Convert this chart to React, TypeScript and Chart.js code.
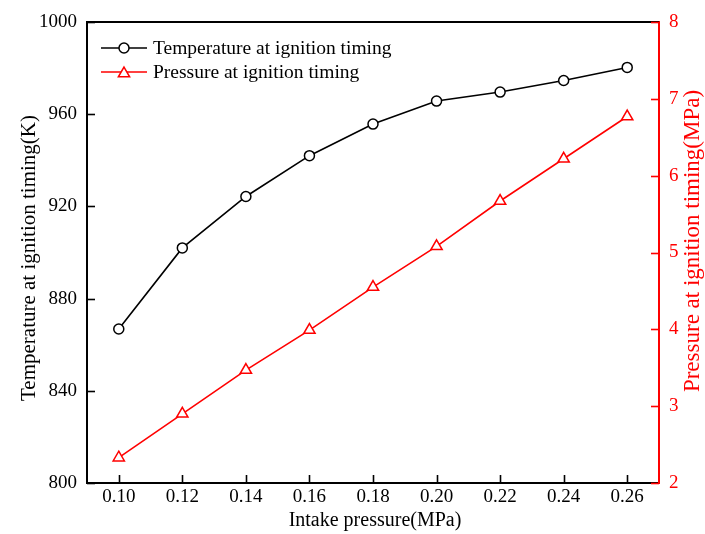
import React, { useEffect, useRef } from "react";
import { Chart, registerables } from "chart.js";

Chart.register(...registerables);

const xValues = [0.1, 0.12, 0.14, 0.16, 0.18, 0.2, 0.22, 0.24, 0.26];
const temperature = [866.8, 902, 924.3, 942, 955.7, 965.7, 969.6, 974.6, 980.3];
const pressure = [2.33, 2.9, 3.47, 3.99, 4.55, 5.08, 5.67, 6.22, 6.77];
const xTicks = [0.1, 0.12, 0.14, 0.16, 0.18, 0.2, 0.22, 0.24, 0.26];
const leftTicks = [800, 840, 880, 920, 960, 1000];
const rightTicks = [2, 3, 4, 5, 6, 7, 8];
const tempLabel = "Temperature at ignition timing";
const presLabel = "Pressure at ignition timing";
const xTitle = "Intake pressure(MPa)";
const leftTitle = "Temperature at ignition timing(K)";
const rightTitle = "Pressure at ignition timing(MPa)";

const FONT = "'Liberation Serif', 'Times New Roman', serif";
const RED = "#ff0000";

function drawMarker(ctx: any, style: string, color: string, x: number, y: number, r: number) {
  ctx.save();
  ctx.fillStyle = "#fff";
  ctx.strokeStyle = color;
  ctx.lineWidth = 1.5;
  ctx.beginPath();
  if (style === "circle") {
    ctx.arc(x, y, r, 0, Math.PI * 2);
  } else {
    for (let k = 0; k < 3; k++) {
      const ang = (k * 2 * Math.PI) / 3;
      const px = x + Math.sin(ang) * r;
      const py = y - Math.cos(ang) * r;
      if (k === 0) ctx.moveTo(px, py);
      else ctx.lineTo(px, py);
    }
    ctx.closePath();
  }
  ctx.fill();
  ctx.stroke();
  ctx.restore();
}

const decorPlugin = {
  id: "decor",
  afterDraw(chart: any) {
    const ctx = chart.ctx;
    const a = chart.chartArea;
    ctx.save();
    // top border
    ctx.strokeStyle = "#000";
    ctx.lineWidth = 2;
    ctx.beginPath();
    ctx.moveTo(a.left, a.top);
    ctx.lineTo(a.right, a.top);
    ctx.stroke();
    // inward ticks
    const tl = 8;
    const xs = chart.scales.x;
    ctx.lineWidth = 1.6;
    ctx.strokeStyle = "#000";
    xs.ticks.forEach((t: any) => {
      const px = Math.round(xs.getPixelForValue(t.value)) + 0.5;
      ctx.beginPath();
      ctx.moveTo(px, a.bottom);
      ctx.lineTo(px, a.bottom - tl);
      ctx.stroke();
    });
    const yl = chart.scales.y;
    yl.ticks.forEach((t: any) => {
      const py = Math.round(yl.getPixelForValue(t.value)) + 0.5;
      ctx.beginPath();
      ctx.moveTo(a.left, py);
      ctx.lineTo(a.left + tl, py);
      ctx.stroke();
    });
    const yr = chart.scales.y1;
    ctx.strokeStyle = RED;
    yr.ticks.forEach((t: any) => {
      const py = Math.round(yr.getPixelForValue(t.value)) + 0.5;
      ctx.beginPath();
      ctx.moveTo(a.right, py);
      ctx.lineTo(a.right - tl, py);
      ctx.stroke();
    });
    // titles
    ctx.textAlign = "center";
    ctx.textBaseline = "middle";
    ctx.fillStyle = "#000";
    ctx.font = `20px ${FONT}`;
    ctx.fillText(xTitle, 375, 521);
    ctx.save();
    ctx.translate(29, 258);
    ctx.rotate(-Math.PI / 2);
    ctx.font = `21px ${FONT}`;
    ctx.fillText(leftTitle, 0, 0);
    ctx.restore();
    ctx.save();
    ctx.translate(693, 241);
    ctx.rotate(-Math.PI / 2);
    ctx.fillStyle = RED;
    ctx.font = `23px ${FONT}`;
    ctx.fillText(rightTitle, 0, 0);
    ctx.restore();
    // legend
    const rows = [
      { label: chart.data.datasets[0].label, color: "#000", style: "circle", y: 48, r: 5 },
      { label: chart.data.datasets[1].label, color: RED, style: "triangle", y: 72, r: 6.5 },
    ];
    rows.forEach((r) => {
      ctx.strokeStyle = r.color;
      ctx.lineWidth = 1.5;
      ctx.beginPath();
      ctx.moveTo(101, r.y);
      ctx.lineTo(147, r.y);
      ctx.stroke();
      drawMarker(ctx, r.style, r.color, 124, r.y + (r.style === "triangle" ? 1.5 : 0), r.r);
      ctx.fillStyle = "#000";
      ctx.textAlign = "left";
      ctx.textBaseline = "middle";
      ctx.font = `19.5px ${FONT}`;
      ctx.fillText(r.label, 153, r.y + 1);
    });
    ctx.restore();
  },
};

export default function App() {
  const ref = useRef<HTMLCanvasElement | null>(null);
  useEffect(() => {
    if (!ref.current) return;
    const chart = new Chart(ref.current, {
      type: "line",
      data: {
        datasets: [
          {
            label: tempLabel,
            data: xValues.map((x, i) => ({ x, y: temperature[i] })),
            yAxisID: "y",
            borderColor: "#000",
            borderWidth: 1.6,
            pointStyle: "circle",
            pointRadius: 5,
            pointBorderWidth: 1.5,
            pointBackgroundColor: "#fff",
            pointBorderColor: "#000",
            tension: 0,
          },
          {
            label: presLabel,
            data: xValues.map((x, i) => ({ x, y: pressure[i] })),
            yAxisID: "y1",
            borderColor: RED,
            borderWidth: 1.6,
            pointStyle: "triangle",
            pointRadius: 6.5,
            pointBorderWidth: 1.5,
            pointBackgroundColor: "#fff",
            pointBorderColor: RED,
            tension: 0,
          },
        ],
      },
      options: {
        animation: false,
        responsive: true,
        maintainAspectRatio: false,
        layout: { padding: { top: 22, left: 0, right: 0, bottom: 0 } },
        plugins: { legend: { display: false }, tooltip: { enabled: false } },
        scales: {
          x: {
            type: "linear",
            min: 0.09,
            max: 0.27,
            afterBuildTicks: (s: any) => {
              s.ticks = xTicks.map((v) => ({ value: v }));
            },
            afterFit: (s: any) => {
              s.height = 51;
            },
            grid: { display: true, drawOnChartArea: false, drawTicks: false },
            border: { color: "#000", width: 2 },
            ticks: {
              padding: 3,
              color: "#000",
              font: { family: FONT, size: 19 },
              callback: (v: any) => Number(v).toFixed(2),
              maxRotation: 0,
              autoSkip: false,
            },
          },
          y: {
            type: "linear",
            position: "left",
            min: 800,
            max: 1000,
            afterBuildTicks: (s: any) => {
              s.ticks = leftTicks.map((v) => ({ value: v }));
            },
            afterFit: (s: any) => {
              s.width = 87;
            },
            grid: { display: true, drawOnChartArea: false, drawTicks: false },
            border: { color: "#000", width: 2 },
            ticks: {
              padding: 10,
              color: "#000",
              font: { family: FONT, size: 19 },
              callback: (v: any) => String(v),
            },
          },
          y1: {
            type: "linear",
            position: "right",
            min: 2,
            max: 8,
            afterBuildTicks: (s: any) => {
              s.ticks = rightTicks.map((v) => ({ value: v }));
            },
            afterFit: (s: any) => {
              s.width = 46;
            },
            grid: { display: true, drawOnChartArea: false, drawTicks: false },
            border: { color: RED, width: 2 },
            ticks: {
              padding: 10,
              color: RED,
              font: { family: FONT, size: 19 },
              callback: (v: any) => String(v),
            },
          },
        },
      },
      plugins: [decorPlugin],
    });
    return () => chart.destroy();
  }, []);
  return (
    <div style={{ position: "fixed", left: 0, top: 0, width: 705, height: 534, background: "#fff" }}>
      <canvas ref={ref} />
    </div>
  );
}
